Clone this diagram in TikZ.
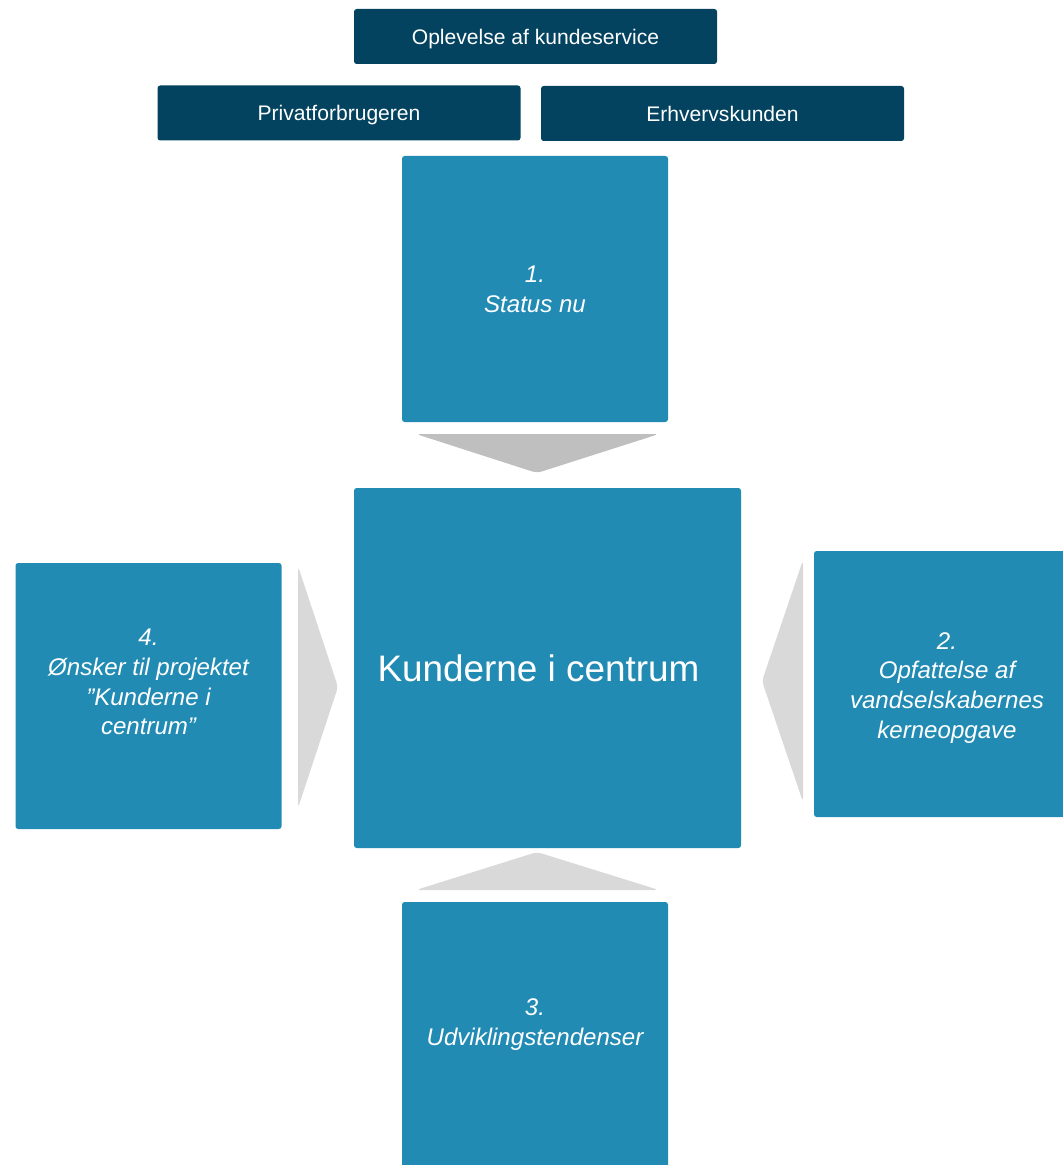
\documentclass[tikz,border=0pt]{standalone}
\usepackage{fontspec}
\setmainfont{Liberation Sans}
\usetikzlibrary{positioning}
\definecolor{darkblue}{RGB}{3,67,96}
\definecolor{midblue}{RGB}{34,139,180}
\definecolor{arrowgray}{RGB}{191,191,191}
\definecolor{lightgray}{RGB}{217,217,217}
\begin{document}
\begin{tikzpicture}[x=0.02cm, y=-0.02cm,
    headbox/.style={fill=darkblue, text=white, rounded corners=1.5pt,
        minimum width=363*0.02cm, minimum height=55*0.02cm, inner sep=0pt,
        text depth=0pt, font=\fontsize{12}{14}\selectfont},
    stepbox/.style={fill=midblue, rounded corners=1.5pt,
        minimum width=266*0.02cm, minimum height=266*0.02cm, inner sep=0pt},
    steptext/.style={text=white, align=center, inner sep=0pt,
        font=\fontsize{13.7}{17}\selectfont\itshape},
    chevron/.style={rounded corners=2.5pt}
]
    \useasboundingbox (0,0) rectangle (1062,1165);

    % Header boxes
    \node[headbox] (oplev) at (535.5,36.5) {Oplevelse af kundeservice};
    \node[headbox] (privat) at (339,113) {Privatforbrugeren};
    \node[headbox] (erhverv) at (722.5,113.5) {Erhvervskunden};

    % Steps
    \node[stepbox] (status) at (535,289) {};
    \node[stepbox, minimum width=387*0.02cm, minimum height=360*0.02cm] (center) at (547.5,668) {};
    \node[stepbox] (onsker) at (148.5,696) {};
    \node[stepbox] (opfat) at (947,684) {};
    \node[stepbox] (udvikl) at (535,1035) {};

    % Texts of the steps
    \node[steptext] (status-txt) at (status) {1.\\Status nu};
    \node[steptext, font=\fontsize{21}{25}\selectfont, xshift=-0.18cm] (center-txt) at (center) {Kunderne i centrum};
    \node[steptext, yshift=0.28cm] (onsker-txt) at (onsker) {4.\\Ønsker til projektet\\”Kunderne i\\centrum”};
    \node[steptext, yshift=-0.08cm] (opfat-txt) at (opfat) {2.\\Opfattelse af\\vandselskabernes\\kerneopgave};
    \node[steptext, yshift=0.2cm] (udvikl-txt) at (udvikl) {3.\\Udviklingstendenser};

    % Chevrons towards the centre
    \fill[chevron, arrowgray] (416,434) -- (659,434) -- (537,473) -- cycle;
    \fill[chevron, lightgray] (298,566) -- (338,687) -- (298,808) -- cycle;
    \fill[chevron, lightgray] (803,560) -- (762,681) -- (803,802) -- cycle;
    \fill[chevron, lightgray] (416,890) -- (659,890) -- (537,852) -- cycle;
\end{tikzpicture}
\end{document}
